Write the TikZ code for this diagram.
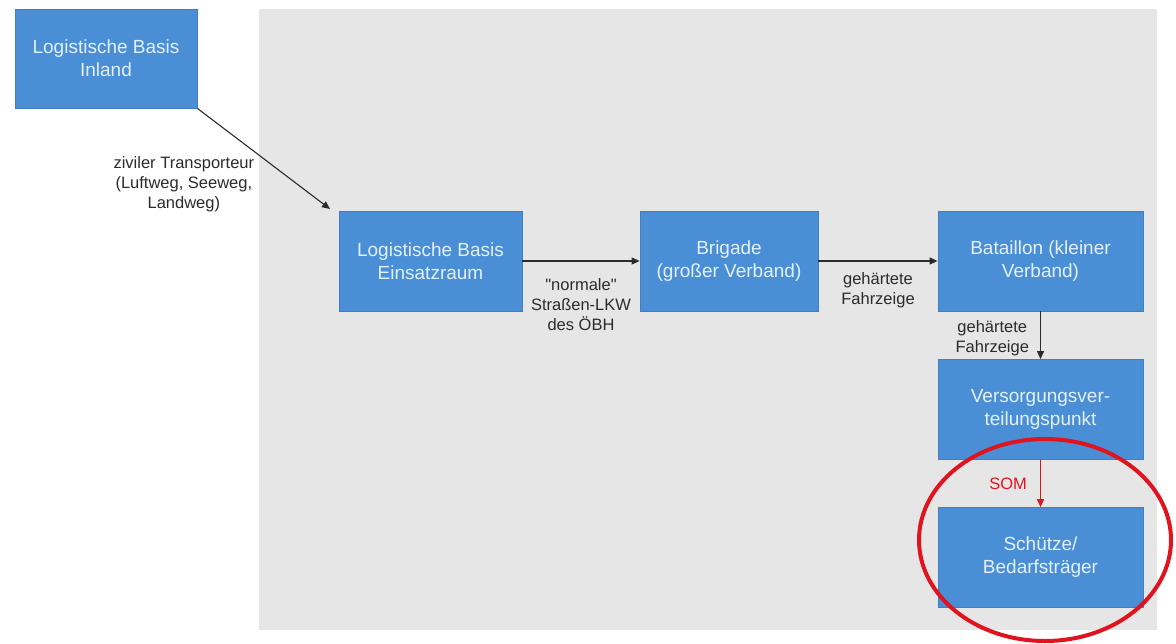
\documentclass[tikz,border=0pt]{standalone}
\usepackage{fontspec}
\setmainfont{Liberation Sans}[Ligatures=TeXOff]
\usetikzlibrary{arrows.meta}
\definecolor{boxfill}{HTML}{4A8FD6}
\definecolor{boxline}{HTML}{3F7FC4}
\definecolor{boxtext}{HTML}{E3F0FF}
\definecolor{bggray}{HTML}{E7E6E6}
\definecolor{lblgray}{HTML}{2B2B2B}
\definecolor{somred}{HTML}{E0141E}
\tikzset{
  bluebox/.style={draw=boxline, line width=0.8pt, fill=boxfill, text=boxtext,
    minimum width=#1, minimum height=100pt, inner sep=0pt, align=center,
    font=\fontsize{19}{23}\selectfont},
  bluebox/.default=183pt,
  conn/.style={draw=lblgray, line width=1.1pt, -{Triangle[length=8pt,width=7pt]}},
  lbl/.style={text=lblgray, align=center, font=\fontsize{16.5}{20}\selectfont, inner sep=0pt},
}
\begin{document}
\begin{tikzpicture}[x=1pt,y=-1pt]
\useasboundingbox (0,0) rectangle (1176,643);
\fill[white] (0,0) rectangle (1176,643);
\fill[bggray] (259,9) rectangle (1157,630);

\node[bluebox=182pt, minimum height=99pt] (inland) at (106,58.5) {Logistische Basis\\Inland};
\node[bluebox] (einsatz) at (430.5,261) {Logistische Basis\\Einsatzraum};
\node[bluebox=178pt] (brigade) at (729,261) {Brigade\\(großer Verband)};
\node[bluebox=205pt] (bataillon) at (1040.5,261) {Bataillon (kleiner\\Verband)};
\node[bluebox=205pt] (vvp) at (1040.5,409.5) {Versorgungsver-\\teilungspunkt};
\node[bluebox=205pt] (schuetze) at (1040.5,557.5) {Schütze/\\Bedarfsträger};

\coordinate (einEnd) at (330,209);
\draw[conn] (inland.south east) -- (einEnd)
  node[lbl, pos=0.47, anchor=north east, xshift=-5pt] (l1) {ziviler Transporteur\\(Luftweg, Seeweg,\\Landweg)};

\draw[conn] (einsatz.east) -- (brigade.west)
  node[lbl, midway, anchor=north, yshift=-17pt] (l2) {"normale"\\Straßen-LKW\\des ÖBH};

\draw[conn] (brigade.east) -- (bataillon.west)
  node[lbl, midway, anchor=north, yshift=-11pt] (l3) {gehärtete\\Fahrzeige};

\draw[conn] (bataillon.south) -- (vvp.north)
  node[lbl, midway, anchor=east, xshift=-11pt, yshift=-3pt] (l4) {gehärtete\\Fahrzeige};

\draw[conn, draw=somred, fill=somred] (vvp.south) -- (schuetze.north)
  node[lbl, text=somred, midway, anchor=east, xshift=-13pt] (l5) {SOM};

\draw[somred, line width=4pt] (1045,540) ellipse [x radius=126, y radius=101];
\end{tikzpicture}
\end{document}
